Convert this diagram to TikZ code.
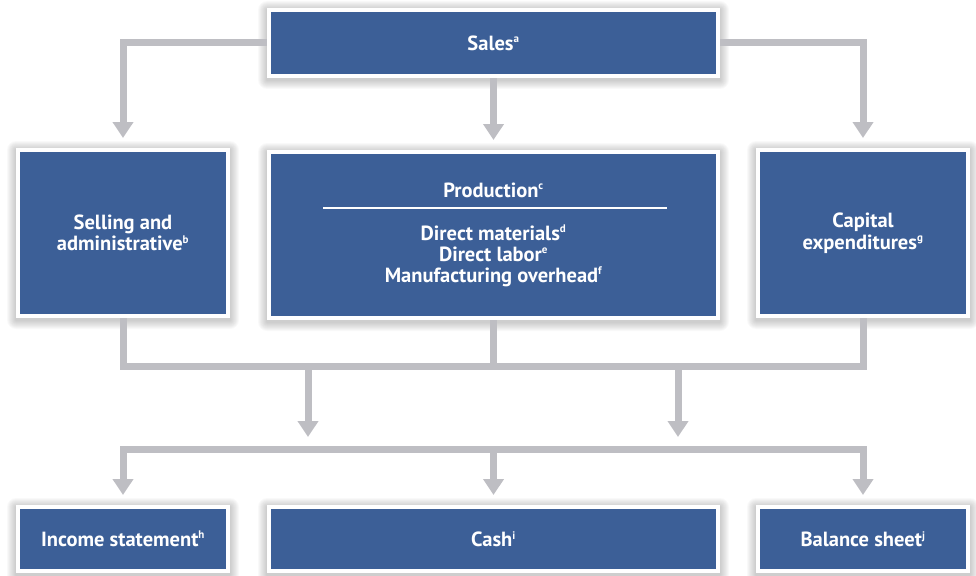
\documentclass[tikz,border=0pt]{standalone}
\usepackage{fontspec}
\setmainfont{PT Sans}
\usetikzlibrary{arrows.meta,backgrounds,calc}
\definecolor{boxblue}{RGB}{60,95,151}
\definecolor{conngray}{RGB}{190,190,195}
\newcommand{\sfx}[1]{\textsuperscript{\fontsize{11}{11}\selectfont #1}}
\tikzset{
  box/.style={draw=white, line width=4pt, fill=boxblue, text=white,
    font=\fontsize{20.5}{21.5}\selectfont\bfseries, align=center, inner sep=0pt},
  boxtext/.style={text=white, font=\fontsize{20.5}{21.5}\selectfont\bfseries, inner sep=0pt, anchor=base},
  conn/.style={draw=conngray, line width=7pt},
  arr/.style={conn, -{Triangle[length=16pt,width=20pt]}},
  softshadow/.style={fill=black, opacity=0.025}
}
\begin{document}
\begin{tikzpicture}[x=1pt,y=-1pt]
\useasboundingbox (0,0) rectangle (976,575);
% boxes
\node[box, minimum width=449pt, minimum height=66pt] (sales) at (493.5,43) {Sales\sfx{a}};
\node[box, minimum width=210pt, minimum height=166pt] (sell) at (123,233) {Selling and\\administrative\sfx{b}};
\node[box, minimum width=449pt, minimum height=166pt] (prod) at (493.5,235) {};
\node[box, minimum width=210pt, minimum height=166pt] (cap) at (863,233) {Capital\\expenditures\sfx{g}};
\node[box, minimum width=210pt, minimum height=64pt] (inc) at (123,539) {Income statement\sfx{h}};
\node[box, minimum width=449pt, minimum height=64pt] (cash) at (493.5,539) {Cash\sfx{i}};
\node[box, minimum width=210pt, minimum height=64pt] (bal) at (863,539) {Balance sheet\sfx{j}};
% production contents
\node[boxtext] (ptitle) at (493.5,197) {Production\sfx{c}};
\coordinate (rl) at (323,208);
\coordinate (rr) at (667,208);
\draw[white, line width=2pt] (rl) -- (rr);
\node[boxtext] (pl1) at (493.5,240) {Direct materials\sfx{d}};
\node[boxtext] (pl2) at (493.5,261) {Direct labor\sfx{e}};
\node[boxtext] (pl3) at (493.5,282) {Manufacturing overhead\sfx{f}};
% coordinates for connectors
\coordinate (mid) at (493.5,366);
\coordinate (m1) at (308,366);
\coordinate (t1) at (308,437);
\coordinate (m2) at (678,366);
\coordinate (t2) at (678,437);
\coordinate (bc) at (493.5,449);
\begin{scope}[on background layer]
  \foreach \n in {sales,sell,prod,cap,inc,cash,bal}{
    \foreach \k in {1,...,9}{
      \fill[softshadow, rounded corners=\k pt]
        ([xshift=-\k pt, yshift=-\k pt-2pt]\n.south west) rectangle
        ([xshift=\k pt, yshift=\k pt-2pt]\n.north east);
    }
  }
  \draw[arr] (sales.west) -| ([yshift=10pt]sell.north);
  \draw[arr] (sales.south) -- ([yshift=10pt]prod.north);
  \draw[arr] (sales.east) -| ([yshift=10pt]cap.north);
  \draw[conn] (sell.south) |- (mid) -| (cap.south);
  \draw[conn] (prod.south) -- (mid);
  \draw[arr] (m1) -- (t1);
  \draw[arr] (m2) -- (t2);
  \draw[arr] (bc) -| ([yshift=10pt]inc.north);
  \draw[arr] (bc) -- ([yshift=10pt]cash.north);
  \draw[arr] (bc) -| ([yshift=10pt]bal.north);
\end{scope}
\end{tikzpicture}
\end{document}
